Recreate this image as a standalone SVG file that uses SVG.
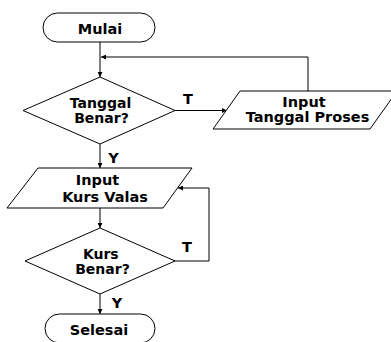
<svg xmlns="http://www.w3.org/2000/svg" width="391" height="342" viewBox="0 0 391 342">
<style>
.s{fill:#fff;stroke:#000;stroke-width:1}
.t{font-family:"DejaVu Sans",Verdana,sans-serif;font-weight:bold;font-size:14.5px;fill:#000;text-anchor:middle}
.d{font-size:14px}
.c{fill:none;stroke:#000;stroke-width:1;marker-end:url(#a)}
</style>
<defs>
<marker id="a" viewBox="0 0 10 10" refX="10" refY="5" markerWidth="5" markerHeight="5" orient="auto" markerUnits="userSpaceOnUse">
<path d="M0,0 L10,5 L0,10 z" fill="#000"/>
</marker>
</defs>
<rect width="391" height="342" fill="#fff"/>
<g id="connectors">
<path class="c" d="M100,42 V77"/>
<path class="c" d="M308,91 V57 H101"/>
<path class="c" d="M175,110.5 H227"/>
<path class="c" d="M100,144 V168"/>
<path class="c" d="M100,208 V228"/>
<path class="c" d="M175,261 H209 V188 H178"/>
<path class="c" d="M100,294 V314"/>
<text class="t" x="188" y="104">T</text>
<text class="t" x="113.5" y="162.5">Y</text>
<text class="t" x="187" y="251.5">T</text>
<text class="t" x="117" y="307.5">Y</text>
</g>
<g id="mulai">
<rect class="s" x="43" y="13" width="112" height="29" rx="14.5" ry="14.5"/>
<text class="t" x="100" y="34">Mulai</text>
</g>
<g id="tanggal-benar">
<polygon class="s" points="100,77 175,110.5 100,144 23,110.5"/>
<text class="t d" x="100.5" y="107.5">Tanggal</text>
<text class="t d" x="101.5" y="123">Benar?</text>
</g>
<g id="input-tanggal">
<polygon class="s" points="240,91 397,91 370,129 213,129"/>
<text class="t" x="304" y="107">Input</text>
<text class="t" x="307.5" y="122.3">Tanggal Proses</text>
</g>
<g id="input-kurs">
<polygon class="s" points="38,168 192,168 163,208 7,208"/>
<text class="t" x="97.5" y="185.3">Input</text>
<text class="t" x="105" y="202.3">Kurs Valas</text>
</g>
<g id="kurs-benar">
<polygon class="s" points="100,228 175,261 100,294 25,261"/>
<text class="t d" x="100.8" y="259">Kurs</text>
<text class="t d" x="102.5" y="274">Benar?</text>
</g>
<g id="selesai">
<rect class="s" x="45" y="314" width="110" height="29" rx="14.5" ry="14.5"/>
<text class="t" x="99" y="335">Selesai</text>
</g>
</svg>
